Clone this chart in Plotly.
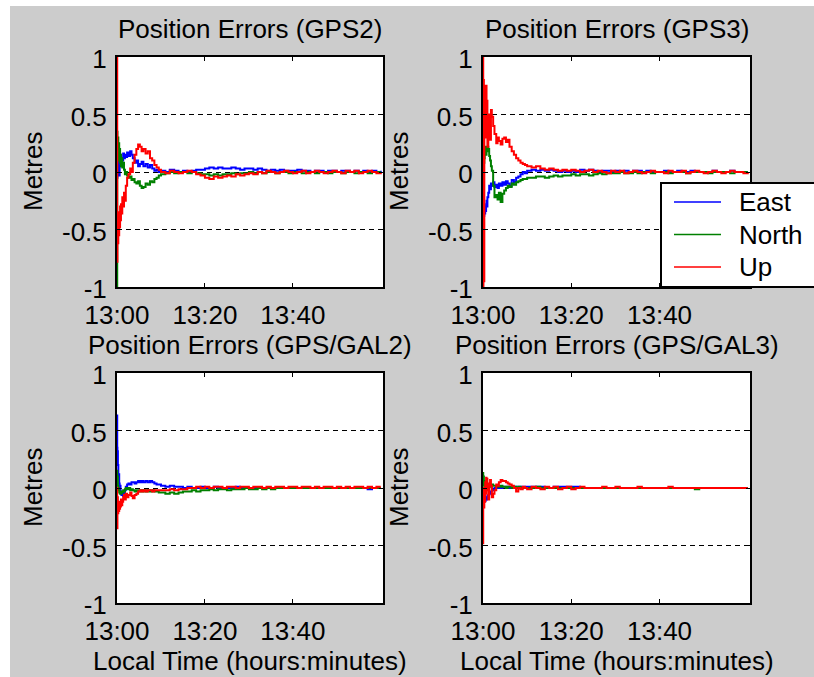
import pandas as pd
import plotly.graph_objects as go

# ---------------------------------------------------------------------------
# Sample times (minutes after 13:00) shared by every series
# ---------------------------------------------------------------------------
minutes = [
    0, 0.05, 0.1, 0.2, 0.3, 0.4, 0.5,
    0.6, 0.7, 0.8, 0.9, 1.0, 1.2, 1.4,
    1.6, 1.8, 2.0, 2.3, 2.6, 3.0, 3.3,
    3.6, 4.0, 4.4, 4.8, 5.2, 5.6, 6.0,
    6.5, 7.0, 7.5, 8.0, 8.5, 9.0, 9.5,
    10, 11, 12, 13, 14, 15, 16, 17, 18, 19,
    20, 21, 22, 23, 24, 25, 26, 27, 28, 29,
    30, 31, 32, 33, 34, 35, 36, 37, 38, 39,
    40, 41, 42, 43, 44, 45, 46, 47, 48, 49,
    50, 51, 52, 53, 54, 55, 56, 57, 58, 59,
    60,
]

# ---------------------------------------------------------------------------
# Position errors in metres
# ---------------------------------------------------------------------------
gps2_east = [
    0.00, -0.05, 0.10, 0.20, 0.05, 0.15, -0.03,
    0.10, 0.05, 0.15, 0.08, 0.12, 0.10, 0.16,
    0.12, 0.15, 0.13, 0.17, 0.14, 0.18, 0.15,
    0.12, 0.08, 0.10, 0.05, 0.07, 0.09, 0.05,
    0.07, 0.04, 0.06, 0.03, 0.01, 0.02, 0.00,
    0.01, 0.00, 0.02, 0.01, 0.00, 0.01, 0.00, 0.01, 0.02, 0.02,
    0.03, 0.04, 0.03, 0.04, 0.03, 0.03, 0.04, 0.03, 0.02, 0.03,
    0.03, 0.02, 0.03, 0.02, 0.01, 0.02, 0.01, 0.02, 0.01, 0.01,
    0.01, 0.02, 0.01, 0.01, 0.00, 0.01, 0.01, 0.00, 0.01, 0.01,
    0.00, 0.01, 0.01, 0.00, 0.01, 0.00, 0.01, 0.00, 0.01, 0.00,
    0.01,
]
gps2_north = [
    -1.00, 0.35, 0.20, 0.30, 0.15, 0.25, 0.10,
    0.20, 0.08, 0.15, 0.05, 0.12, 0.04, 0.08,
    0.02, -0.02, 0.00, -0.03, -0.05, -0.04, -0.07,
    -0.06, -0.09, -0.10, -0.08, -0.12, -0.14, -0.13,
    -0.10, -0.11, -0.08, -0.09, -0.06, -0.05, -0.03,
    -0.02, -0.01, 0.00, -0.01, 0.00, 0.00, -0.01, 0.00, -0.01, -0.02,
    -0.02, -0.03, -0.02, -0.03, -0.02, -0.02, -0.01, -0.02, -0.01, -0.01,
    0.00, -0.01, 0.00, -0.01, 0.00, 0.00, -0.01, 0.00, 0.00, -0.01,
    0.00, 0.00, -0.01, 0.00, 0.00, -0.01, 0.00, 0.00, -0.01, 0.00,
    0.00, -0.01, 0.00, 0.00, -0.01, 0.00, 0.00, -0.01, 0.00, 0.00,
    0.00,
]
gps2_up = [
    1.00, -0.78, -0.50, -0.62, -0.40, -0.55, -0.35,
    -0.48, -0.30, -0.42, -0.28, -0.36, -0.22, -0.30,
    -0.18, -0.25, -0.12, -0.05, -0.02, 0.03, 0.00,
    0.08, 0.15, 0.20, 0.24, 0.22, 0.18, 0.20,
    0.16, 0.18, 0.12, 0.10, 0.06, 0.04, 0.02,
    0.00, -0.01, 0.01, 0.00, -0.01, 0.00, 0.01, 0.00, -0.02, -0.03,
    -0.05, -0.06, -0.04, -0.05, -0.04, -0.03, -0.04, -0.02, -0.03, -0.02,
    -0.01, -0.02, 0.00, -0.01, 0.01, 0.00, -0.01, 0.00, 0.01, 0.00,
    -0.01, 0.00, 0.01, -0.01, 0.00, 0.01, 0.00, -0.01, 0.00, 0.01,
    0.00, -0.01, 0.01, 0.00, 0.01, -0.01, 0.00, 0.01, 0.00, -0.01,
    0.00,
]

gps3_east = [
    -0.10, -0.20, -0.30, -0.38, -0.33, -0.36, -0.30,
    -0.34, -0.28, -0.25, -0.30, -0.22, -0.18, -0.12,
    -0.15, -0.10, -0.12, -0.09, -0.13, -0.11, -0.14,
    -0.10, -0.12, -0.09, -0.11, -0.08, -0.10, -0.12,
    -0.07, -0.09, -0.05, -0.04, -0.02, 0.00, -0.01,
    0.01, 0.02, 0.01, 0.02, 0.01, 0.02, 0.01, 0.00, 0.01, 0.00,
    0.01, 0.00, 0.02, 0.01, 0.02, 0.01, 0.00, 0.01, 0.01, 0.00,
    0.01, 0.00, 0.01, 0.00, 0.01, 0.01, 0.00, 0.01, 0.00, 0.00,
    0.00, 0.01, 0.00, 0.00, 0.01, 0.00, 0.00, 0.01, 0.00, 0.00,
    0.00, 0.00, 0.01, 0.00, 0.00, 0.00, 0.01, 0.00, 0.00, 0.00,
    0.00,
]
gps3_north = [
    -0.20, 0.05, -0.10, 0.08, 0.12, 0.18, 0.20,
    0.22, 0.15, 0.20, 0.18, 0.22, 0.20, 0.14,
    0.10, 0.05, 0.01, -0.12, -0.22, -0.20, -0.24,
    -0.18, -0.26, -0.19, -0.16, -0.14, -0.12, -0.13,
    -0.10, -0.11, -0.09, -0.08, -0.07, -0.06, -0.06,
    -0.05, -0.05, -0.04, -0.04, -0.05, -0.04, -0.03, -0.04, -0.03, -0.03,
    -0.02, -0.03, -0.02, -0.02, -0.03, -0.02, -0.01, -0.02, -0.01, -0.01,
    -0.01, 0.00, -0.01, -0.01, 0.00, -0.01, 0.00, 0.00, -0.01, 0.00,
    0.00, 0.00, -0.01, 0.00, 0.00, 0.00, -0.01, 0.00, 0.00, 0.00,
    0.00, -0.01, 0.00, 0.00, 0.00, 0.00, -0.01, 0.00, 0.00, 0.00,
    0.00,
]
gps3_up = [
    1.00, -1.00, 0.80, -0.95, 0.75, 0.30, 0.70,
    0.45, 0.75, 0.30, 0.62, 0.22, 0.50, 0.35,
    0.28, 0.54, 0.48, 0.40, 0.33, 0.25, 0.30,
    0.27, 0.24, 0.29, 0.30, 0.26, 0.28, 0.22,
    0.18, 0.15, 0.12, 0.10, 0.08, 0.07, 0.06,
    0.05, 0.04, 0.05, 0.03, 0.02, 0.03, 0.02, 0.01, 0.02, 0.01,
    0.02, 0.01, 0.00, 0.01, 0.02, 0.00, 0.01, 0.00, -0.01, 0.01,
    0.00, 0.01, -0.01, 0.00, 0.01, 0.00, -0.01, 0.00, 0.01, 0.00,
    0.00, -0.01, 0.01, 0.00, 0.00, 0.01, -0.01, 0.00, 0.01, 0.00,
    -0.01, 0.00, 0.01, 0.00, -0.01, 0.00, 0.01, 0.00, 0.00, -0.01,
    0.00,
]

gal2_east = [
    0.63, 0.35, 0.32, 0.20, 0.10, 0.12, 0.04,
    0.00, 0.02, -0.03, -0.05, -0.06, -0.04, -0.07,
    -0.05, -0.02, 0.01, 0.03, 0.04, 0.03, 0.05,
    0.05, 0.04, 0.05, 0.06, 0.05, 0.06, 0.05,
    0.06, 0.05, 0.06, 0.05, 0.04, 0.03, 0.03,
    0.02, 0.01, 0.02, 0.01, 0.01, 0.00, 0.01, 0.00, 0.00, 0.01,
    0.00, 0.00, 0.01, 0.00, 0.00, 0.00, 0.00, 0.01, 0.00, 0.00,
    0.00, 0.00, 0.00, 0.00, 0.00, 0.00, 0.00, 0.00, 0.00, 0.00,
    0.00, 0.00, 0.00, 0.00, 0.00, 0.00, 0.00, 0.00, 0.00, 0.00,
    0.00, 0.00, 0.00, 0.00, 0.00, 0.00, 0.00, -0.01, 0.00, 0.00,
    0.00,
]
gal2_north = [
    0.15, 0.08, 0.10, 0.02, 0.00, -0.02, -0.04,
    -0.03, -0.05, -0.04, -0.05, -0.03, -0.04, -0.02,
    -0.03, -0.01, 0.00, -0.01, 0.00, -0.02, -0.01,
    -0.02, -0.03, -0.02, -0.03, -0.02, -0.03, -0.02,
    -0.03, -0.02, -0.03, -0.02, -0.03, -0.03, -0.04,
    -0.04, -0.05, -0.04, -0.05, -0.04, -0.03, -0.03, -0.02, -0.03, -0.02,
    -0.02, -0.01, -0.02, -0.01, -0.01, -0.02, -0.01, -0.01, -0.01, 0.00,
    -0.01, -0.01, 0.00, -0.01, 0.00, -0.01, 0.00, 0.00, 0.00, 0.00,
    0.00, 0.00, 0.00, 0.00, 0.00, 0.00, 0.00, 0.00, 0.00, 0.00,
    0.00, 0.00, 0.00, 0.00, 0.00, 0.00, 0.00, 0.00, 0.00, 0.00,
    0.00,
]
gal2_up = [
    0.00, -0.35, -0.08, -0.22, -0.12, -0.20, -0.14,
    -0.18, -0.12, -0.16, -0.10, -0.15, -0.12, -0.08,
    -0.06, -0.10, -0.05, -0.08, -0.06, -0.04, -0.07,
    -0.09, -0.06, -0.05, -0.03, -0.02, -0.03, -0.02,
    -0.03, -0.02, -0.02, -0.03, -0.02, -0.02, -0.02,
    -0.02, -0.02, -0.01, -0.02, -0.01, -0.01, 0.00, 0.00, 0.01, 0.00,
    0.01, 0.00, 0.01, 0.01, 0.00, 0.01, 0.01, 0.00, 0.01, 0.01,
    0.00, 0.01, 0.01, 0.00, 0.01, 0.00, 0.01, 0.01, 0.00, 0.01,
    0.01, 0.00, 0.01, 0.01, 0.00, 0.01, 0.00, 0.01, 0.01, 0.00,
    0.01, 0.00, 0.01, 0.00, 0.01, 0.01, 0.00, 0.01, 0.00, 0.01,
    0.01,
]

gal3_east = [
    0.00, -0.08, -0.10, -0.12, -0.10, -0.08, -0.11,
    -0.10, -0.09, -0.10, -0.08, -0.07, -0.06, -0.05,
    -0.05, -0.03, -0.02, -0.01, 0.00, 0.01, 0.00,
    0.01, 0.00, 0.01, 0.01, 0.00, 0.01, 0.00,
    0.00, 0.01, 0.00, 0.01, 0.01, 0.01, 0.01,
    0.01, 0.01, 0.01, 0.01, 0.00, 0.00, 0.01, 0.01, 0.01, 0.01,
    0.01, 0.01, 0.00, 0.00, 0.00, 0.00, 0.00, 0.00, 0.00, 0.00,
    0.00, 0.00, 0.00, 0.00, 0.00, 0.00, 0.00, 0.00, 0.00, 0.00,
    0.00, 0.00, 0.00, 0.00, 0.00, 0.00, 0.00, 0.00, 0.00, 0.00,
    0.00, 0.00, 0.00, 0.00, 0.00, 0.00, 0.00, 0.00, 0.00, 0.00,
    0.00,
]
gal3_north = [
    0.13, 0.05, 0.10, 0.02, 0.06, 0.00, 0.04,
    0.02, 0.05, 0.01, 0.03, 0.02, 0.00, 0.03,
    0.02, 0.01, 0.03, 0.02, 0.02, 0.01, 0.02,
    0.01, 0.02, 0.01, 0.01, 0.00, 0.01, 0.01,
    0.00, 0.01, 0.00, 0.01, 0.00, 0.00, 0.00,
    0.00, 0.00, 0.01, 0.00, 0.00, 0.00, 0.00, 0.00, 0.00, 0.00,
    0.00, 0.00, 0.00, 0.00, 0.00, 0.00, 0.00, 0.00, 0.00, 0.00,
    0.00, 0.00, 0.00, 0.00, 0.00, 0.00, 0.00, 0.00, 0.00, 0.00,
    0.00, 0.00, 0.00, 0.00, 0.00, 0.00, 0.00, 0.00, -0.01, 0.00,
    0.00, 0.00, 0.00, 0.00, 0.00, 0.00, 0.00, 0.00, 0.00, 0.00,
    0.00,
]
gal3_up = [
    -0.48, 0.00, -0.10, -0.17, -0.05, -0.12, 0.05,
    -0.05, 0.09, 0.02, 0.08, -0.02, -0.10, 0.04,
    0.07, 0.02, -0.08, -0.05, -0.02, 0.03, 0.02,
    0.05, 0.07, 0.06, 0.06, 0.05, 0.04, 0.03,
    0.02, 0.00, -0.03, 0.00, -0.01, 0.01, 0.00,
    -0.01, 0.01, 0.00, -0.01, 0.01, 0.00, 0.01, -0.01, 0.00, 0.01,
    -0.01, 0.00, 0.01, 0.00, 0.00, 0.00, 0.00, 0.01, 0.00, 0.00,
    0.01, 0.00, 0.00, 0.00, 0.00, 0.01, 0.00, 0.00, 0.00, 0.00,
    0.00, 0.00, 0.01, 0.00, 0.00, 0.00, 0.00, 0.00, 0.00, 0.00,
    0.00, 0.00, 0.00, 0.00, 0.00, 0.00, 0.00, 0.00, 0.00, 0.00,
    0.00,
]

panel_titles = [
    "Position Errors (GPS2)",
    "Position Errors (GPS3)",
    "Position Errors (GPS/GAL2)",
    "Position Errors (GPS/GAL3)",
]
series_names = ["East", "North", "Up"]
series_colors = ["#0000ff", "#008000", "#ff0000"]
panel_data = [
    (gps2_east, gps2_north, gps2_up),
    (gps3_east, gps3_north, gps3_up),
    (gal2_east, gal2_north, gal2_up),
    (gal3_east, gal3_north, gal3_up),
]
y_ticks = [-1, -0.5, 0, 0.5, 1]
y_tick_labels = ["-1", "-0.5", "0", "0.5", "1"]
x_tick_labels = ["13:00", "13:20", "13:40"]
y_label = "Metres"
x_label = "Local Time (hours:minutes)"

# ---------------------------------------------------------------------------
# Figure geometry (pixels)
# ---------------------------------------------------------------------------
W, H = 814, 677
FONT = "Liberation Sans, Arial, sans-serif"
FS = 26
BG = "#cccccc"


def fx(px):
    return px / W


def fy(py):
    return 1 - py / H


# left, top, right, bottom of each plotting box
boxes = [(117, 57, 383, 287), (483, 57, 750, 287),
         (117, 373, 383, 603), (483, 373, 750, 603)]

start = pd.Timestamp("2000-01-01 13:00")
times = [start + pd.Timedelta(minutes=m) for m in minutes]
x_range = [start, start + pd.Timedelta(minutes=60.5)]
x_tickvals = [start + pd.Timedelta(minutes=m) for m in (0, 20, 40)]

fig = go.Figure()
layout = dict(
    template="none",
    width=W, height=H,
    margin=dict(l=0, r=0, t=0, b=0, pad=0, autoexpand=False),
    paper_bgcolor=BG, plot_bgcolor="white",
    showlegend=False,
    font=dict(family=FONT, size=FS, color="black"),
)

annotations = []
shapes = [
    # thin white borders along the top and left edges
    dict(type="rect", xref="paper", yref="paper", x0=0, x1=1, y0=fy(6), y1=1,
         fillcolor="white", line=dict(width=0), layer="below"),
    dict(type="rect", xref="paper", yref="paper", x0=0, x1=fx(10), y0=0, y1=1,
         fillcolor="white", line=dict(width=0), layer="below"),
]

for i, ((l, t, r, b), title, data) in enumerate(zip(boxes, panel_titles, panel_data)):
    n = "" if i == 0 else str(i + 1)
    xa, ya = "x" + n, "y" + n
    layout["xaxis" + n] = dict(
        domain=[fx(l), fx(r)], anchor=ya, type="date", range=x_range,
        tickvals=x_tickvals, ticktext=x_tick_labels,
        ticks="inside", ticklen=4, tickwidth=1, tickcolor="black",
        showline=True, linecolor="black", linewidth=2, mirror="ticks",
        showgrid=False, zeroline=False, ticklabelstandoff=4, automargin=False,
        tickfont=dict(family=FONT, size=FS, color="black"), fixedrange=True,
    )
    layout["yaxis" + n] = dict(
        domain=[fy(b), fy(t)], anchor=xa, range=[-1, 1],
        tickvals=y_ticks, ticktext=y_tick_labels,
        ticks="inside", ticklen=4, tickwidth=1, tickcolor="black",
        showline=True, linecolor="black", linewidth=2, mirror="ticks",
        showgrid=True, gridcolor="black", gridwidth=1.2, griddash="5px,4px",
        zeroline=False, ticklabelstandoff=3, ticklabelshift=2, automargin=False,
        tickfont=dict(family=FONT, size=FS, color="black"), fixedrange=True,
    )
    for name, color, vals in zip(series_names, series_colors, data):
        fig.add_trace(go.Scatter(
            x=times, y=vals, mode="lines", name=name,
            line=dict(color=color, width=2, shape="hv"),
            xaxis=xa, yaxis=ya, showlegend=False,
        ))
    cx = (l + r) / 2
    cy = (t + b) / 2
    annotations.append(dict(
        text=title, xref="paper", yref="paper", x=fx(cx), y=fy(t - 28),
        xanchor="center", yanchor="middle", showarrow=False,
        font=dict(family=FONT, size=FS, color="black"),
    ))
    annotations.append(dict(
        text=y_label, xref="paper", yref="paper", x=fx(l - 84), y=fy(cy),
        xanchor="center", yanchor="middle", showarrow=False, textangle=-90,
        font=dict(family=FONT, size=FS, color="black"),
    ))
    if i >= 2:
        annotations.append(dict(
            text=x_label, xref="paper", yref="paper", x=fx(cx), y=fy(b + 58),
            xanchor="center", yanchor="middle", showarrow=False,
            font=dict(family=FONT, size=FS, color="black"),
        ))

# Legend box in the upper-right panel
lg_left, lg_top, lg_bottom = 661, 183, 287
shapes.append(dict(type="rect", xref="paper", yref="paper",
                   x0=fx(lg_left), x1=fx(W + 20), y0=fy(lg_bottom), y1=fy(lg_top),
                   fillcolor="white", line=dict(color="black", width=2),
                   layer="above"))
for k, (name, color) in enumerate(zip(series_names, series_colors)):
    yy = 202 + 32.5 * k
    shapes.append(dict(type="line", xref="paper", yref="paper",
                       x0=fx(674), x1=fx(721), y0=fy(yy), y1=fy(yy),
                       line=dict(color=color, width=1.5), layer="above"))
    annotations.append(dict(
        text=name, xref="paper", yref="paper", x=fx(737), y=fy(yy),
        xanchor="left", yanchor="middle", showarrow=False,
        font=dict(family=FONT, size=FS, color="black"),
    ))

layout["annotations"] = annotations
layout["shapes"] = shapes
fig.update_layout(**layout)
fig.write_html("out.html")
